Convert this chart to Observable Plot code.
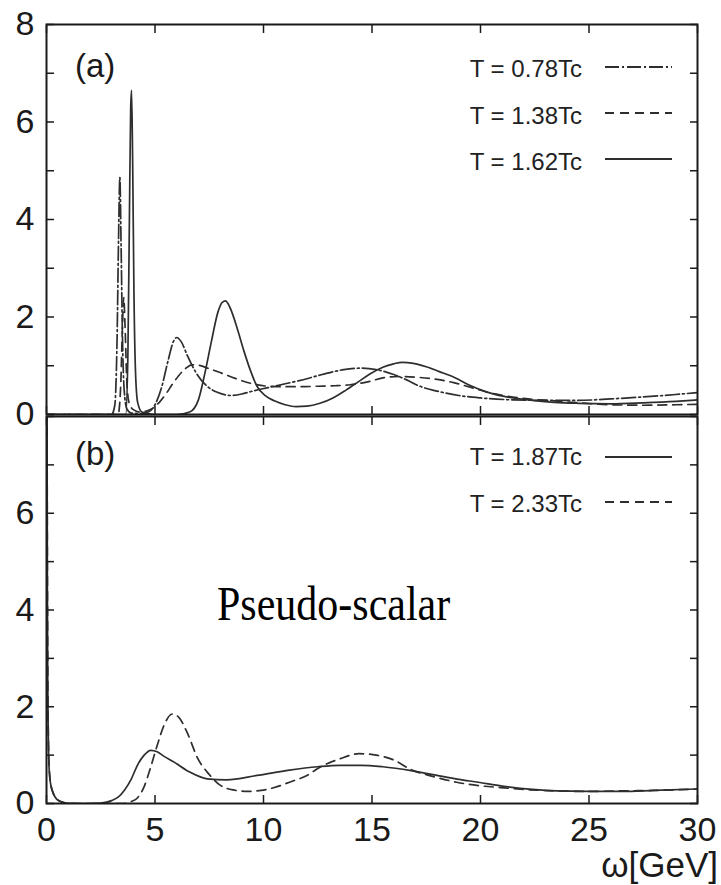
<!DOCTYPE html>
<html>
<head>
<meta charset="utf-8">
<script src="https://cdn.jsdelivr.net/npm/d3@7"></script>
<script src="https://cdn.jsdelivr.net/npm/@observablehq/plot@0.6"></script>
<style>
  html, body { margin: 0; padding: 0; background: #fff; }
  #wrap { position: relative; width: 721px; height: 885px; background: #fff; overflow: hidden; }
  #wrap > svg { position: absolute; left: 0; }
  #overlay { position: absolute; left: 0; top: 0; pointer-events: none; }
</style>
</head>
<body>
<div id="wrap"></div>
<script>
// ---------- data ----------
const xTicks = [0, 5, 10, 15, 20, 25, 30];
const yTicksMinor = [0, 1, 2, 3, 4, 5, 6, 7, 8];
const yLabelsA = [0, 2, 4, 6, 8];
const yLabelsB = [0, 2, 4, 6];

const seriesA = ["T = 0.78Tc", "T = 1.38Tc", "T = 1.62Tc"];
const seriesB = ["T = 1.87Tc", "T = 2.33Tc"];

// panel (a): T = 0.78Tc  (dash-dot)
const a078 = [[0,0],[3.0,0],[3.15,0.2],[3.25,1.5],[3.32,3.6],[3.38,4.86],[3.44,3.4],[3.5,1.6],[3.58,0.5],[3.7,0.12],[3.9,0.03],[4.3,0.02],[4.7,0.05],[5.0,0.2],[5.3,0.55],[5.6,1.1],[5.85,1.5],[6.0,1.58],[6.2,1.5],[6.5,1.2],[6.9,0.85],[7.4,0.58],[7.9,0.45],[8.5,0.39],[9.0,0.42],[9.5,0.48],[10.2,0.55],[11.0,0.63],[11.7,0.7],[12.7,0.82],[13.7,0.92],[14.5,0.95],[15.2,0.92],[16.0,0.82],[16.6,0.71],[17.2,0.58],[18.0,0.48],[19.0,0.39],[20.0,0.34],[21.5,0.3],[23.0,0.29],[24.5,0.29],[26.0,0.32],[27.5,0.36],[29.0,0.41],[30,0.45]];
// panel (a): T = 1.38Tc  (dashed)
const a138 = [[0,0],[3.3,0],[3.42,0.6],[3.5,1.8],[3.56,2.4],[3.62,1.8],[3.7,0.7],[3.8,0.25],[4.0,0.1],[4.3,0.05],[4.6,0.07],[4.9,0.13],[5.2,0.25],[5.5,0.42],[5.8,0.62],[6.1,0.8],[6.4,0.94],[6.7,1.02],[7.0,1.01],[7.5,0.94],[8.0,0.86],[8.7,0.74],[9.4,0.64],[10.2,0.58],[11.0,0.57],[11.7,0.57],[12.5,0.58],[13.3,0.59],[14.0,0.61],[14.8,0.67],[15.5,0.75],[16.3,0.78],[17.2,0.76],[18.0,0.72],[18.8,0.65],[19.6,0.55],[20.3,0.46],[21.2,0.38],[22.2,0.32],[23.4,0.28],[24.5,0.24],[26.0,0.2],[27.5,0.19],[29.0,0.2],[30,0.21]];
// panel (a): T = 1.62Tc  (solid)
const a162 = [[0,0],[3.65,0],[3.75,1.2],[3.82,4.0],[3.88,6.3],[3.92,6.65],[3.97,5.2],[4.03,2.5],[4.1,0.9],[4.2,0.25],[4.4,0.05],[5.0,0],[6.0,0],[6.6,0.05],[7.0,0.3],[7.3,0.85],[7.6,1.5],[7.9,2.1],[8.1,2.3],[8.25,2.33],[8.45,2.2],[8.8,1.75],[9.1,1.3],[9.4,0.9],[9.7,0.58],[10.1,0.38],[10.5,0.28],[11.0,0.2],[11.5,0.16],[12.0,0.17],[12.6,0.23],[13.2,0.34],[13.8,0.5],[14.4,0.68],[14.9,0.83],[15.5,0.97],[16.0,1.04],[16.4,1.07],[16.9,1.05],[17.5,0.98],[18.1,0.88],[18.8,0.76],[19.5,0.6],[20.3,0.46],[21.2,0.36],[22.2,0.3],[23.4,0.25],[24.5,0.23],[26.0,0.22],[27.5,0.24],[29.0,0.27],[30,0.3]];

// panel (b): T = 1.87Tc  (solid)
const b187 = [[0,14],[0.02,9],[0.04,4.5],[0.06,2.4],[0.09,1.2],[0.13,0.65],[0.2,0.38],[0.3,0.22],[0.45,0.1],[0.65,0.04],[0.9,0.01],[1.2,0],[1.6,0],[2.0,0],[2.5,0.01],[3.0,0.06],[3.3,0.13],[3.6,0.28],[3.9,0.5],[4.2,0.8],[4.5,1.0],[4.8,1.1],[5.1,1.07],[5.4,0.98],[5.9,0.85],[6.6,0.65],[7.4,0.51],[8.3,0.49],[9.7,0.58],[11.2,0.69],[12.5,0.76],[13.5,0.79],[14.5,0.79],[15.5,0.76],[16.8,0.68],[18.0,0.58],[19.0,0.5],[19.9,0.44],[21.0,0.36],[22.4,0.29],[23.5,0.26],[25.0,0.25],[26.5,0.25],[28.0,0.27],[30,0.3]];
// panel (b): T = 2.33Tc  (dashed)
const b233 = [[0,14],[0.02,9.5],[0.04,5],[0.06,2.6],[0.09,1.3],[0.13,0.7],[0.2,0.4],[0.3,0.23],[0.45,0.11],[0.65,0.04],[0.9,0.01],[1.5,0],[2.5,0],[3.5,0],[3.9,0.04],[4.2,0.12],[4.5,0.35],[4.8,0.75],[5.1,1.2],[5.4,1.6],[5.8,1.85],[6.1,1.78],[6.5,1.45],[6.95,0.95],[7.5,0.6],[8.0,0.38],[8.6,0.28],[9.25,0.25],[9.9,0.27],[10.5,0.33],[11.2,0.44],[12.0,0.58],[12.6,0.75],[13.5,0.92],[14.4,1.03],[15.2,1.0],[16.0,0.9],[16.8,0.7],[17.8,0.56],[18.9,0.44],[19.9,0.37],[20.9,0.33],[22.0,0.29],[23.5,0.26],[25.0,0.25],[26.5,0.26],[28.0,0.27],[30,0.3]];

// ---------- styling ----------
const INK = "#1a1a1a";
const LINE = "#2e2e2e";
const DASHDOT = "14,3,2,3";
const DASH = "9,6";
const FONT = "'Liberation Sans', Arial, Helvetica, sans-serif";

function frameAxes(yLabels, showXLabels) {
  const m = [
    Plot.frame({stroke: INK, strokeWidth: 2}),
    Plot.axisY(yTicksMinor, {anchor: "left", tickSize: 8, dx: 8, fill: "none", stroke: INK, strokeWidth: 1.5, label: null}),
    Plot.axisY(yTicksMinor, {anchor: "right", tickSize: 8, dx: -8, fill: "none", stroke: INK, strokeWidth: 1.5, label: null}),
    Plot.axisX(xTicks, {anchor: "bottom", tickSize: 8, dy: -8, fill: "none", stroke: INK, strokeWidth: 1.5, label: null}),
    Plot.axisX(xTicks, {anchor: "top", tickSize: 8, dy: 8, fill: "none", stroke: INK, strokeWidth: 1.5, label: null}),
    Plot.axisY(yLabels, {anchor: "left", tickSize: 0, tickPadding: 12, stroke: "none", fill: INK, fontSize: 34, label: null})
  ];
  if (showXLabels) m.push(Plot.axisX(xTicks, {anchor: "bottom", tickSize: 0, tickPadding: 13, stroke: "none", fill: INK, fontSize: 34, label: null}));
  return m;
}

const lineOpts = (extra) => Object.assign({x: d => d[0], y: d => d[1], stroke: LINE, strokeWidth: 1.7, curve: "monotone-x", clip: true}, extra);

const plotA = Plot.plot({
  width: 721, height: 430,
  marginLeft: 46, marginRight: 24, marginTop: 24, marginBottom: 16,
  x: {domain: [0, 30]},
  y: {domain: [0, 8]},
  style: {fontFamily: FONT, background: "transparent", color: INK, overflow: "visible"},
  marks: [
    Plot.line(a078, lineOpts({strokeDasharray: DASHDOT})),
    Plot.line(a138, lineOpts({strokeDasharray: DASH})),
    Plot.line(a162, lineOpts({})),
    ...frameAxes(yLabelsA, false)
  ]
});

const plotB = Plot.plot({
  width: 721, height: 485,
  marginLeft: 46, marginRight: 24, marginTop: 16, marginBottom: 82,
  x: {domain: [0, 30]},
  y: {domain: [0, 8]},
  style: {fontFamily: FONT, background: "transparent", color: INK, overflow: "visible"},
  marks: [
    Plot.line(b187, lineOpts({})),
    Plot.line(b233, lineOpts({strokeDasharray: DASH})),
    ...frameAxes(yLabelsB, true)
  ]
});

const wrap = document.getElementById("wrap");
plotA.style.top = "0px";
plotB.style.top = "400px";
wrap.appendChild(plotB);
wrap.appendChild(plotA);

// ---------- overlay: panel tags, legends, annotation, axis title ----------
const ov = d3.select(wrap).append("svg")
  .attr("id", "overlay").attr("width", 721).attr("height", 885)
  .style("font-family", FONT);

ov.append("text").attr("x", 75).attr("y", 77).attr("font-size", 33).attr("fill", INK).text("(a)");
ov.append("text").attr("x", 75).attr("y", 465).attr("font-size", 33).attr("fill", INK).text("(b)");

const legA = [
  {label: seriesA[0], dash: DASHDOT, base: 77, ly: 67},
  {label: seriesA[1], dash: DASH, base: 124, ly: 113},
  {label: seriesA[2], dash: null, base: 170, ly: 159}
];
const legB = [
  {label: seriesB[0], dash: null, base: 465, ly: 457},
  {label: seriesB[1], dash: DASH, base: 512, ly: 502}
];
for (const r of [...legA, ...legB]) {
  ov.append("text").attr("x", 582).attr("y", r.base).attr("text-anchor", "end")
    .attr("font-size", 24).attr("fill", "#222").text(r.label);
  ov.append("line").attr("x1", 605).attr("x2", 672).attr("y1", r.ly).attr("y2", r.ly)
    .attr("stroke", LINE).attr("stroke-width", 1.8)
    .attr("stroke-dasharray", r.dash);
}

ov.append("text").attr("transform", "translate(217,620) scale(1,1.15)")
  .attr("font-family", "'Liberation Serif', 'Times New Roman', serif")
  .attr("font-size", 42).attr("fill", "#000").text("Pseudo-scalar");

ov.append("text").attr("x", 718).attr("y", 877).attr("text-anchor", "end")
  .attr("font-size", 35).attr("fill", INK).text("ω[GeV]");
</script>
</body>
</html>
